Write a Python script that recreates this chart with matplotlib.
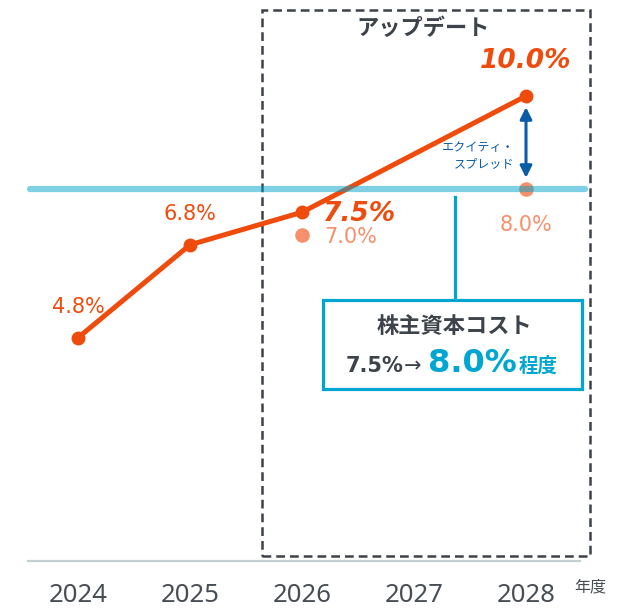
import matplotlib
matplotlib.use('Agg')
import matplotlib.pyplot as plt
from matplotlib import patches

# data
years = [2024, 2025, 2026, 2027, 2028]
year_labels = ['2024', '2025', '2026', '2027', '2028']
roe_years = [2024, 2025, 2026, 2028]
roe_vals = [4.8, 6.8, 7.5, 10.0]
roe_labels = ['4.8%', '6.8%', '7.5%', '10.0%']
coe_years = [2026, 2028]
coe_vals = [7.0, 8.0]
coe_labels = ['7.0%', '8.0%']
coe_level = 8.0

ORANGE = '#ef4b0c'
LIGHT_OR = '#f7906a'
CYAN = '#00a6d2'
DARK = '#3d434a'
NAVY = '#0b5ca6'

W, H = 633, 608
fig = plt.figure(figsize=(W / 100, H / 100), dpi=100)
ax = fig.add_axes([0, 0, 1, 1])
# 112 px per year, 46.5 px per percentage point, 2024 at x=78, 0% at y=561
ax.set_xlim(2024 - 78 / 112, 2024 + (W - 78) / 112)
ax.set_ylim((561 - H) / 46.5, 561 / 46.5)
ax.axis('off')

# baseline and cost of equity line
ax.plot([2023.55, 2028.48], [0, 0], color='#c5cfd3', lw=1.6, zorder=1)
ax.plot([2023.57, 2028.53], [coe_level, coe_level], color='#00a0cc', alpha=0.5,
        lw=4.5, solid_capstyle='round', zorder=5)

# update box
ax.add_patch(patches.Rectangle((2025.643, 0.11), 2028.571 - 2025.643, 11.74,
                               fill=False, ls=(0, (3.5, 2)), lw=1.8, ec=DARK, zorder=2))
ax.text(2027.08, 11.45, 'アップデート', ha='center', va='center', fontsize=16,
        fontweight='bold', color=DARK, family=['Noto Sans CJK JP'])

# ROE line
ax.plot(roe_years, roe_vals, color=ORANGE, lw=3.6, marker='o', ms=9, zorder=4)
ax.scatter(coe_years, coe_vals, s=110, color=LIGHT_OR, zorder=4, lw=0)

offsets = [(0, 22), (0, 22), (15, -1), (0, 25)]
has = ['center', 'center', 'left', 'center']
for i, (x, y, lab) in enumerate(zip(roe_years, roe_vals, roe_labels)):
    bold = lab in ('7.5%', '10.0%')
    ax.annotate(lab, (x, y), xytext=offsets[i], textcoords='offset points',
                ha=has[i], va='center', color=ORANGE,
                fontsize=19 if bold else 15,
                fontweight='bold' if bold else 'normal',
                fontstyle='italic' if bold else 'normal')
ax.annotate(coe_labels[0], (coe_years[0], coe_vals[0]), xytext=(16, -1),
            textcoords='offset points', ha='left', va='center', color=LIGHT_OR, fontsize=15)
ax.annotate(coe_labels[1], (coe_years[1], coe_vals[1]), xytext=(0, -26),
            textcoords='offset points', ha='center', va='center', color=LIGHT_OR, fontsize=15)

# equity spread arrow
ax.annotate('', xy=(2028, 9.76), xytext=(2028, 8.24),
            arrowprops=dict(arrowstyle='<|-|>,head_length=0.7,head_width=0.35',
                            color=NAVY, lw=2.2, shrinkA=0, shrinkB=0))
ax.text(2027.9, 8.72, 'エクイティ・\nスプレッド', ha='right', va='center', fontsize=8.7,
        color=NAVY, linespacing=1.35, family=['Noto Sans CJK JP'])

# callout box
ax.plot([2027.366, 2027.366], [7.83, 5.61], color=CYAN, lw=2.3, zorder=3)
ax.add_patch(patches.Rectangle((2026.1875, 3.70), 2028.5 - 2026.1875, 5.61 - 3.70,
                               fc='white', ec=CYAN, lw=2.3, zorder=3))
ax.text(2027.36, 5.05, '株主資本コスト', ha='center', va='center', fontsize=16,
        fontweight='bold', color=DARK, family=['Noto Sans CJK JP'], zorder=6)
fam = ['DejaVu Sans', 'Noto Sans CJK JP']
base = (561 - 372) / 46.5
ax.text(2026.393, base, '7.5%', ha='left', va='baseline', fontsize=15,
        fontweight='bold', color=DARK, family=fam, zorder=6)
ax.text(2026.905, base, '→', ha='left', va='baseline', fontsize=15,
        color=DARK, family=fam, zorder=6)
ax.text(2027.125, base, '8.0%', ha='left', va='baseline', fontsize=23,
        fontweight='bold', color=CYAN, family=fam, zorder=6)
ax.text(2027.935, base, '程度', ha='left', va='baseline', fontsize=14,
        fontweight='bold', color=CYAN, family=['Noto Sans CJK JP'], zorder=6)

# year labels
for x, lab in zip(years, year_labels):
    ax.text(x, (561 - 595) / 46.5, lab, ha='center', va='center', fontsize=18.5,
            color='#474d54', family=['Noto Sans'])
ax.text(2028.43, (561 - 587) / 46.5, '年度', ha='left', va='center', fontsize=11.5,
        color='#474d54', family=['Noto Sans CJK JP'])

fig.savefig('out.png', dpi=100)
